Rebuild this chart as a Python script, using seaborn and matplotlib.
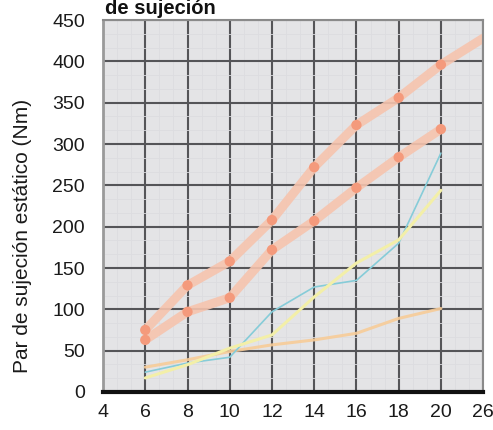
import numpy as np
import pandas as pd
import seaborn as sns
import matplotlib.pyplot as plt
from matplotlib.ticker import MultipleLocator

# x categories (equally spaced on the chart)
x_labels = ["4", "6", "8", "10", "12", "14", "16", "18", "20", "26"]

# series (positions 6..20, upper curve runs to the edge)
upper_x = [6, 8, 10, 12, 14, 16, 18, 20, 26]
upper_y = [75, 129, 158, 208, 272, 323, 356, 396, 428]
lower_x = [6, 8, 10, 12, 14, 16, 18, 20]
lower_y = [63, 97, 114, 172, 207, 247, 284, 318]
cyan_y = [24, 35, 42, 97, 127, 135, 180, 289]
yellow_y = [17, 33, 53, 69, 115, 156, 184, 244]
light_orange_y = [30, 39, 49, 57, 63, 71, 89, 101]

pos = {int(v): i for i, v in enumerate(x_labels)}

sns.set_theme(style="white")
plt.rcParams["font.family"] = ["Liberation Sans", "DejaVu Sans"]

fig = plt.figure(figsize=(4.93, 4.30), dpi=100)
ax = fig.add_axes([0.209, 0.0884, 0.771, 0.865])
ax.set_facecolor("#e4e4e6")

def pos_list(xs):
    return [pos[x] for x in xs]

# thin lines
sns.lineplot(x=pos_list(lower_x), y=light_orange_y, color="#f7cc98", linewidth=2.2, alpha=0.9, ax=ax)
sns.lineplot(x=pos_list(lower_x), y=cyan_y, color="#86ccd8", linewidth=1.2, ax=ax)
sns.lineplot(x=pos_list(lower_x), y=yellow_y, color="#f3efa8", linewidth=2.2, ax=ax)

# thick orange lines with markers
sns.lineplot(x=pos_list(upper_x), y=upper_y, color="#f6c4ae", linewidth=6.5, alpha=0.9, ax=ax)
sns.lineplot(x=pos_list(lower_x), y=lower_y, color="#f6c4ae", linewidth=6.5, alpha=0.9, ax=ax)
sns.scatterplot(x=pos_list(upper_x[:-1]), y=upper_y[:-1], color="#f49a7c", s=55, edgecolor="none", ax=ax, zorder=5)
sns.scatterplot(x=pos_list(lower_x), y=lower_y, color="#f49a7c", s=55, edgecolor="none", ax=ax, zorder=5)

ax.set_xlim(0, 9)
ax.set_ylim(0, 450)
ax.set_xticks(range(len(x_labels)))
ax.set_xticklabels(x_labels)
ax.yaxis.set_major_locator(MultipleLocator(50))
ax.xaxis.set_minor_locator(MultipleLocator(1 / 3))
ax.yaxis.set_minor_locator(MultipleLocator(50 / 3))
ax.grid(which="major", color="#555558", linewidth=1.5)
ax.grid(which="minor", color="#dcdce0", linewidth=0.6)
ax.set_axisbelow(True)

ax.tick_params(axis="both", which="both", length=0, labelsize=14, colors="#1a1a1a")
ax.tick_params(axis="x", pad=9)
ax.tick_params(axis="y", pad=13)

for side in ["top", "right"]:
    ax.spines[side].set_color("#8a8a8a")
    ax.spines[side].set_linewidth(1.5)
ax.spines["left"].set_color("#9a9a9a")
ax.spines["left"].set_linewidth(2)
ax.spines["bottom"].set_color("#111111")
ax.spines["bottom"].set_linewidth(3)

ax.set_ylabel("Par de sujeción estático (Nm)", fontsize=15, color="#1a1a1a")
ax.yaxis.set_label_coords(-0.187, 0.42)
fig.text(0.212, 0.98, "de sujeción", fontsize=14.5, fontweight="bold", color="#111111", va="center", ha="left")

fig.savefig("out.png", dpi=100)
